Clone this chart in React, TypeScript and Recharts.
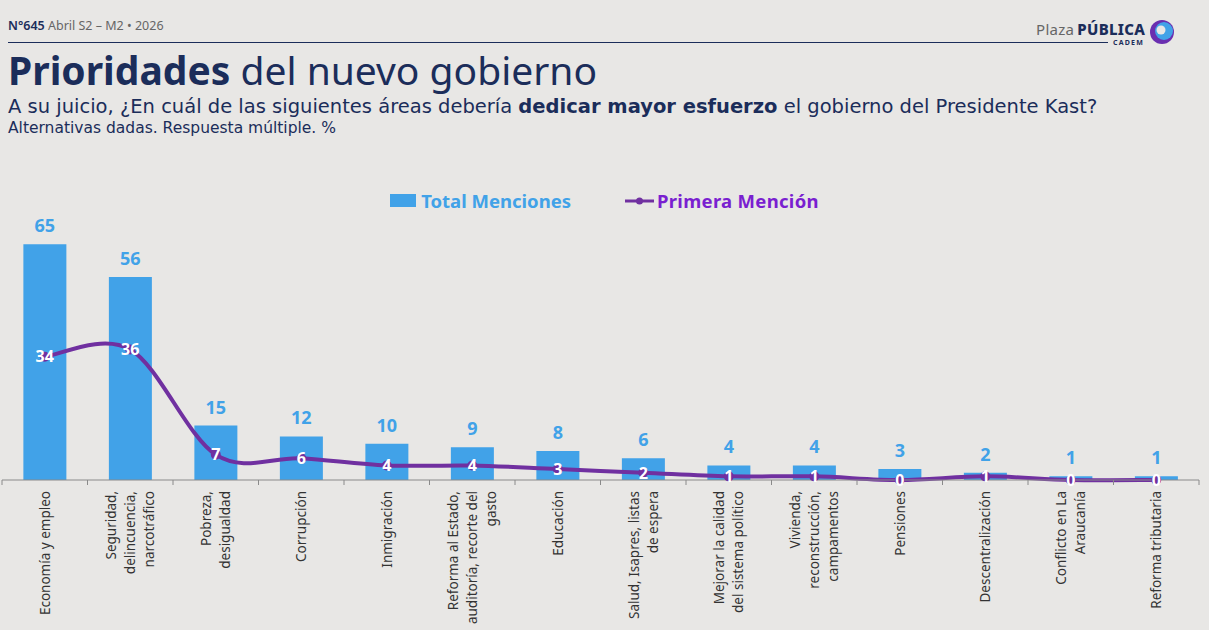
import { Bar, ComposedChart, LabelList, Legend, Line, XAxis, YAxis } from 'recharts'

const categories = [
  'Economía y empleo',
  'Seguridad,\ndelincuencia,\nnarcotráfico',
  'Pobreza,\ndesigualdad',
  'Corrupción',
  'Inmigración',
  'Reforma al Estado,\nauditoría, recorte del\ngasto',
  'Educación',
  'Salud, Isapres, listas\nde espera',
  'Mejorar la calidad\ndel sistema político',
  'Vivienda,\nreconstrucción,\ncampamentos',
  'Pensiones',
  'Descentralización',
  'Conflicto en La\nAraucanía',
  'Reforma tributaria',
]
const totalMenciones = [65, 56, 15, 12, 10, 9, 8, 6, 4, 4, 3, 2, 1, 1]
const primeraMencion = [34, 36, 7, 6, 4, 4, 3, 2, 1, 1, 0, 1, 0, 0]

const data = categories.map((name, i) => ({
  name,
  total: totalMenciones[i],
  primera: primeraMencion[i],
}))

const BLUE = '#41a2e8'
const PURPLE_LINE = '#7030a0'
const PURPLE_TEXT = '#7a1fd0'
const NAVY = '#1b2d5a'
const FONT = '"Noto Sans", sans-serif'
const WIDE_FONT = '"DejaVu Sans", sans-serif'

const W = 1209
const MARGIN = { top: 28, right: 10, left: 2, bottom: 0 }
const STEP = (W - MARGIN.left - MARGIN.right) / categories.length

// Excel-style smoothed line (Catmull-Rom as cubic Béziers)
const smoothCurve = (context: any) => {
  let pts: [number, number][] = []
  return {
    areaStart() {},
    areaEnd() {},
    lineStart() {
      pts = []
    },
    point(x: number, y: number) {
      pts.push([+x, +y])
    },
    lineEnd() {
      if (!pts.length) return
      context.moveTo(pts[0][0], pts[0][1])
      for (let i = 0; i < pts.length - 1; i++) {
        const p0 = pts[Math.max(0, i - 1)]
        const p1 = pts[i]
        const p2 = pts[i + 1]
        const p3 = pts[Math.min(pts.length - 1, i + 2)]
        context.bezierCurveTo(
          p1[0] + (p2[0] - p0[0]) / 6,
          p1[1] + (p2[1] - p0[1]) / 6,
          p2[0] - (p3[0] - p1[0]) / 6,
          p2[1] - (p3[1] - p1[1]) / 6,
          p2[0],
          p2[1],
        )
      }
    },
  }
}

function CategoryTick(props: any) {
  const { x, y, payload, index } = props
  const lines = String(payload.value).split('\n')
  const lh = 19
  const startX = x - ((lines.length - 1) * lh) / 2
  return (
    <g>
      <line x1={x - STEP / 2} x2={x - STEP / 2} y1={y - 8} y2={y - 3} stroke="#8a8a8a" />
      {index === categories.length - 1 && (
        <line x1={x + STEP / 2} x2={x + STEP / 2} y1={y - 8} y2={y - 3} stroke="#8a8a8a" />
      )}
      {lines.map((ln, i) => (
        <text
          key={i}
          x={0}
          y={0}
          transform={`translate(${startX + i * lh + 5},${y + 3}) rotate(-90)`}
          textAnchor="end"
          fontFamily={FONT}
          fontSize={13.5}
          fill="#333"
        >
          {ln}
        </text>
      ))}
    </g>
  )
}

function LegendContent() {
  return (
    <div style={{ display: 'flex', justifyContent: 'center', alignItems: 'center', fontFamily: FONT, fontWeight: 700, fontSize: 18.5 }}>
      <span style={{ display: 'inline-block', width: 26, height: 13, background: BLUE, marginRight: 5 }} />
      <span style={{ color: BLUE }}>Total Menciones</span>
      <svg width={29} height={14} style={{ marginLeft: 54, marginRight: 3 }}>
        <line x1={0} x2={29} y1={7} y2={7} stroke={PURPLE_LINE} strokeWidth={3} />
        <circle cx={14.5} cy={7} r={3.5} fill={PURPLE_LINE} />
      </svg>
      <span style={{ color: PURPLE_TEXT, letterSpacing: 0.3 }}>Primera Mención</span>
    </div>
  )
}

function LineLabel(props: any) {
  const { x, y, value } = props
  return (
    <text x={x} y={y} dy="0.36em" textAnchor="middle" fontFamily={FONT} fontWeight={700} fontSize={16} fill="#fff">
      {value}
    </text>
  )
}

export default function App() {
  return (
    <div style={{ position: 'fixed', left: 0, top: 0, width: W, height: 630, background: '#e8e7e5', overflow: 'hidden', fontFamily: FONT }}>
      {/* header */}
      <div style={{ position: 'absolute', left: 8, top: 17, fontSize: 12.5, color: '#666', whiteSpace: 'nowrap' }}>
        <span style={{ color: NAVY, fontWeight: 600 }}>N°645</span> Abril S2 – M2 • 2026
      </div>
      <div style={{ position: 'absolute', left: 8, top: 42, width: 1100, height: 1, background: NAVY }} />
      <div style={{ position: 'absolute', left: 1036, top: 19, fontSize: 15, whiteSpace: 'nowrap', color: '#666', letterSpacing: 0.3 }}>
        Plaza<span style={{ color: NAVY, fontWeight: 800, marginLeft: 3 }}>PÚBLICA</span>
      </div>
      <div style={{ position: 'absolute', left: 1113, top: 38, fontSize: 7, fontWeight: 700, color: NAVY, letterSpacing: 1.2 }}>CADEM</div>
      <svg style={{ position: 'absolute', left: 1148, top: 18 }} width={30} height={30}>
        <circle cx={14} cy={14} r={12} fill="#6a2fb0" />
        <circle cx={16} cy={13} r={9} fill={BLUE} />
        <circle cx={13} cy={12} r={4.5} fill="#e8e7e5" />
      </svg>
      <div style={{ position: 'absolute', left: 8, top: 50, fontSize: 39, color: NAVY, whiteSpace: 'nowrap', lineHeight: 1 }}>
        <span style={{ fontWeight: 700 }}>Prioridades</span> del nuevo gobierno
      </div>
      <div style={{ position: 'absolute', left: 8, top: 97, fontSize: 19.5, fontFamily: WIDE_FONT, color: NAVY, whiteSpace: 'nowrap', lineHeight: 1 }}>
        A su juicio, ¿En cuál de las siguientes áreas debería <b>dedicar mayor esfuerzo</b> el gobierno del Presidente Kast?
      </div>
      <div style={{ position: 'absolute', left: 8, top: 121, fontSize: 15.5, fontFamily: WIDE_FONT, color: NAVY, whiteSpace: 'nowrap', lineHeight: 1 }}>
        Alternativas dadas. Respuesta múltiple. %
      </div>

      <div style={{ position: 'absolute', left: 0, top: 180 }}>
        <ComposedChart width={W} height={450} data={data} margin={MARGIN} barCategoryGap="25%">
          <XAxis
            dataKey="name"
            interval={0}
            height={150}
            tickLine={false}
            axisLine={{ stroke: '#8a8a8a' }}
            tick={<CategoryTick />}
          />
          <YAxis hide domain={[0, 75]} />
          <Legend
            verticalAlign="middle"
            align="center"
            wrapperStyle={{ top: 8, left: 0, width: W }}
            content={() => <LegendContent />}
          />
          <Bar dataKey="total" fill={BLUE} isAnimationActive={false}>
            <LabelList
              dataKey="total"
              position="top"
              offset={12}
              fill={BLUE}
              fontFamily={FONT}
              fontWeight={700}
              fontSize={18}
            />
          </Bar>
          <Line
            dataKey="primera"
            type={smoothCurve as any}
            stroke={PURPLE_LINE}
            strokeWidth={4}
            dot={{ r: 3, fill: PURPLE_LINE, stroke: PURPLE_LINE }}
            activeDot={false}
            isAnimationActive={false}
          >
            <LabelList dataKey="primera" content={<LineLabel />} />
          </Line>
        </ComposedChart>
      </div>
    </div>
  )
}
